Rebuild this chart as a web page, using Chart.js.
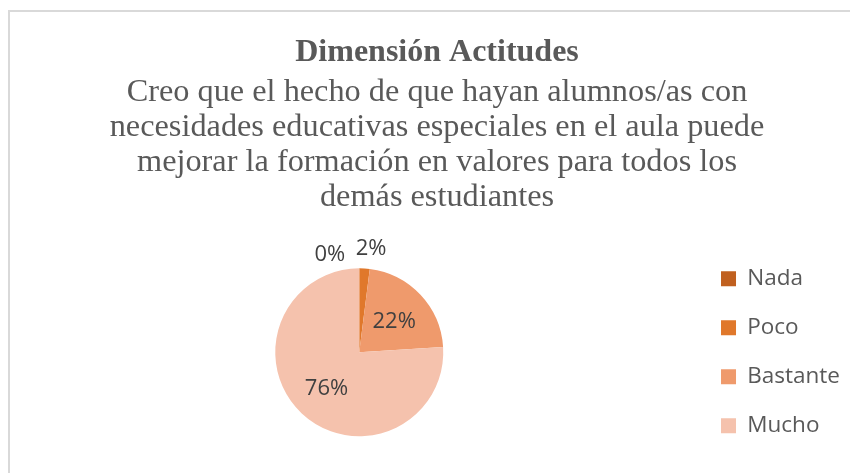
<!DOCTYPE html>
<html>
<head>
<meta charset="utf-8">
<script src="https://cdn.jsdelivr.net/npm/chart.js@4"></script>
<style>
  html, body { margin: 0; padding: 0; background: #fff; }
  #wrap { position: relative; width: 850px; height: 473px; }
  #frame { position: absolute; left: 8px; top: 10px; right: 0; bottom: 0;
           border-left: 2px solid #d9d9d9; border-top: 2px solid #d9d9d9; }
  #pie { position: absolute; left: 0; top: 0; }
</style>
</head>
<body>
<div id="wrap">
  <div id="frame"></div>
  <canvas id="pie" width="850" height="473"></canvas>
</div>
<script>
// categories and shares (%)
const categories = ['Nada', 'Poco', 'Bastante', 'Mucho'];
const shares = [0, 2, 22, 76];
const sliceColors = ['#c0601f', '#e0782b', '#ef9a6c', '#f5c2ad'];

const titleText = 'Dimensión Actitudes';
const subtitleLines = [
  'Creo que el hecho de que hayan alumnos/as con',
  'necesidades educativas especiales en el aula puede',
  'mejorar la formación en valores para todos los',
  'demás estudiantes'
];

// percentage labels on the slices
const sliceLabels = {
  id: 'sliceLabels',
  afterDatasetsDraw(chart) {
    const { ctx } = chart;
    const arcs = chart.getDatasetMeta(0).data;
    ctx.save();
    ctx.font = '22px "Open Sans"';
    ctx.fillStyle = '#404040';
    ctx.textBaseline = 'middle';
    arcs.forEach((arc, i) => {
      const { x, y, startAngle, endAngle, outerRadius } = arc.getProps(['x', 'y', 'startAngle', 'endAngle', 'outerRadius'], true);
      const mid = (startAngle + endAngle) / 2;
      const txt = shares[i] + '%';
      if (shares[i] < 5) {
        // small slices: label outside, zero share pushed to the left
        const r = outerRadius + 20;
        const px = x + Math.cos(mid) * r;
        const py = y + Math.sin(mid) * r;
        if (shares[i] === 0) {
          ctx.textAlign = 'right';
          ctx.fillText(txt, px - 14, py + 7);
        } else {
          ctx.textAlign = 'left';
          ctx.fillText(txt, px - 10, py);
        }
      } else {
        const r = outerRadius * 0.57;
        ctx.textAlign = 'center';
        ctx.fillText(txt, x + Math.cos(mid) * r, y + Math.sin(mid) * r + 2);
      }
    });
    ctx.restore();
  }
};

new Chart(document.getElementById('pie'), {
  type: 'pie',
  data: {
    labels: categories,
    datasets: [{
      data: shares,
      backgroundColor: sliceColors,
      borderWidth: 0,
      radius: 84
    }]
  },
  options: {
    responsive: false,
    animation: false,
    layout: { padding: { left: 24, right: 0, top: 0, bottom: 0 } },
    plugins: {
      title: {
        display: true,
        text: titleText,
        color: '#595959',
        font: { family: '"Liberation Serif"', size: 32, weight: 'bold', lineHeight: 1.2 },
        padding: { top: 34, bottom: 3 }
      },
      subtitle: {
        display: true,
        text: subtitleLines,
        color: '#595959',
        font: { family: '"Liberation Serif"', size: 32.3, lineHeight: 1.084 },
        padding: { top: 0, bottom: 16 }
      },
      legend: {
        position: 'right',
        fullSize: false,
        labels: {
          color: '#595959',
          font: { family: '"Open Sans"', size: 22.5 },
          boxWidth: 15,
          boxHeight: 15,
          padding: 26.5
        }
      },
      tooltip: { enabled: false }
    }
  },
  plugins: [sliceLabels]
});
</script>
</body>
</html>
